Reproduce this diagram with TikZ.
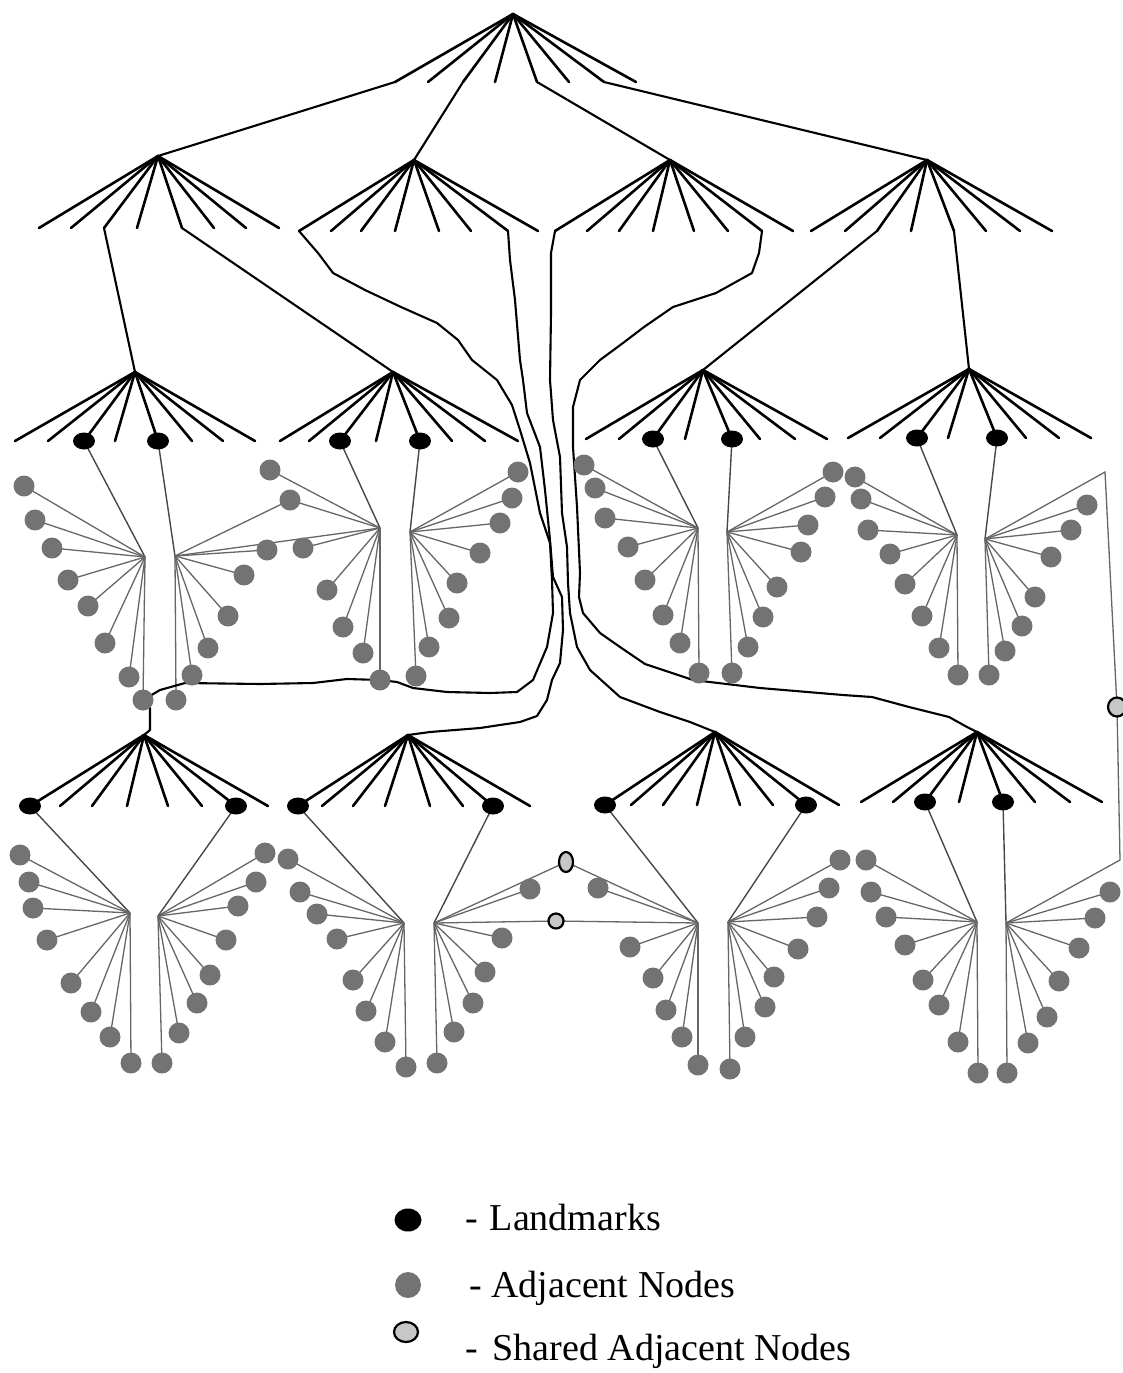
\documentclass[tikz,border=0pt]{standalone}
\usepackage{fontspec}
\setmainfont{Liberation Serif}
\usetikzlibrary{shapes.geometric}
\pgfdeclarelayer{bg}
\pgfsetlayers{bg,main}
\tikzset{
  fanline/.style={line width=2.6pt, line cap=round},
  conn/.style={line width=2.1pt, line join=round, line cap=round},
  spoke/.style={line width=1.3pt, black!60},
  lspoke/.style={line width=1.4pt, black!72},
  adj/.style={circle, fill=black!55, minimum size=21pt, inner sep=0pt},
  lmk/.style={ellipse, fill=black, minimum width=22pt, minimum height=17pt, inner sep=0pt},
  shared/.style={ellipse, draw=black, line width=2.2pt, fill=black!22, inner sep=0pt},
  legtext/.style={anchor=base west, inner sep=0pt, font=\fontsize{38}{44}\selectfont},
}
% #1 apex name, #2 y of fan ends, #3 list of x of fan ends
\newcommand\fanout[3]{%
  \foreach \fnx [count=\fnk] in {#3}{%
    \coordinate (#1-f\fnk) at (\fnx,#2);
    \begin{pgfonlayer}{bg}\draw[fanline] (#1) -- (#1-f\fnk);\end{pgfonlayer}
  }}
% #1 hub name, #2 list of x/y of adjacent nodes
\newcommand\adjset[2]{%
  \foreach \ajx/\ajy [count=\ajk] in {#2}{%
    \node[adj] (#1-n\ajk) at (\ajx,\ajy) {};
    \begin{pgfonlayer}{bg}\draw[spoke] (#1) -- (#1-n\ajk.center);\end{pgfonlayer}
  }}
% #1 cluster, #2 #3 fan indices of landmarks
\newcommand\lmarks[3]{%
  \node[lmk] (#1-L1) at (#1-f#2) {};
  \node[lmk] (#1-L2) at (#1-f#3) {};
  \begin{pgfonlayer}{bg}
    \draw[lspoke] (#1-L1.center) -- (#1-HL);
    \draw[lspoke] (#1-L2.center) -- (#1-HR);
  \end{pgfonlayer}}
\begin{document}
\begin{tikzpicture}[x=1pt,y=-1pt]
\useasboundingbox (0,0) rectangle (1122,1373);
% ---------- upper tree ----------
\coordinate (R) at (513,14);
\fanout{R}{82}{395,428,463,495,537,569,604,636}
\coordinate (A) at (158,156);
\coordinate (B) at (414,160);
\coordinate (C) at (670,160);
\coordinate (D) at (927,160);
\begin{pgfonlayer}{bg}
\draw[conn] (R-f1) -- (A);
\draw[conn] (R-f3) -- (B);
\draw[conn] (R-f5) -- (C);
\draw[conn] (R-f7) -- (D);
\end{pgfonlayer}
\fanout{A}{228}{39,71,104,137,182,214,246,279}
\fanout{B}{231}{299,331,361,395,439,471,508,538}
\fanout{C}{231}{555,587,619,653,694,728,762,793}
\fanout{D}{231}{811,845,877,911,954,986,1020,1052}
% ---------- upper clusters ----------
\coordinate (E) at (135,372);
\coordinate (F) at (393,372);
\coordinate (G) at (703,370);
\coordinate (H) at (969,369);
\begin{pgfonlayer}{bg}
\draw[conn] (A-f3) -- (E);
\draw[conn] (A-f5) -- (F);
\draw[conn] (D-f3) -- (G);
\draw[conn] (D-f5) -- (H);
\end{pgfonlayer}
\fanout{E}{441}{15,48,84,115,158,192,223,255}
\fanout{F}{441}{280,309,340,376,420,452,485,518}
\fanout{G}{439}{586,619,653,685,732,760,795,827}
\fanout{H}{438}{848,880,917,948,997,1026,1059,1091}
\coordinate (E-HL) at (145,557); \coordinate (E-HR) at (175,556);
\coordinate (F-HL) at (380,528); \coordinate (F-HR) at (410,532);
\coordinate (G-HL) at (698,528); \coordinate (G-HR) at (727,532);
\coordinate (H-HL) at (957,535); \coordinate (H-HR) at (985,539);
\lmarks{E}{3}{5}
\lmarks{F}{3}{5}
\lmarks{G}{3}{5}
\lmarks{H}{3}{5}
\adjset{E-HL}{24/486,35/520,52/548,68/580,88/606,105/643,129/677,143/700}
\adjset{E-HR}{267/550,244/575,228/616,208/648,192/675,176/700}
\adjset{F-HL}{270/470,290/500,303/548,327/590,343/627,363/653,380/680}
\adjset{F-HR}{518/472,512/498,500/523,480/553,457/583,449/618,429/647,416/676}
\adjset{G-HL}{584/465,595/488,605/518,628/547,645/580,663/615,680/643,699/673}
\adjset{G-HR}{833/472,825/497,808/525,801/552,777/587,763/617,748/647,732/673}
\adjset{H-HL}{855/477,861/499,868/530,890/554,905/584,922/616,939/648,958/675}
\adjset{H-HR}{1087/505,1071/530,1051/557,1035/597,1022/626,1005/651,989/675}
% ---------- lower clusters ----------
\coordinate (E2) at (144,735);
\coordinate (F2) at (408,735);
\coordinate (G2) at (715,732);
\coordinate (H2) at (977,732);
\fanout{E2}{806}{30,60,92,127,168,202,236,268}
\fanout{F2}{806}{298,322,353,385,430,463,493,530}
\fanout{G2}{805}{605,631,663,697,740,773,806,839}
\fanout{H2}{802}{861,893,925,959,1003,1035,1070,1102}
\coordinate (E2-HL) at (130,913); \coordinate (E2-HR) at (158,916);
\coordinate (F2-HL) at (404,923); \coordinate (F2-HR) at (434,923);
\coordinate (G2-HL) at (698,923); \coordinate (G2-HR) at (728,922);
\coordinate (H2-HL) at (977,922); \coordinate (H2-HR) at (1006,923);
\lmarks{E2}{1}{7}
\lmarks{F2}{1}{7}
\lmarks{G2}{1}{7}
\lmarks{H2}{3}{5}
\adjset{E2-HL}{20/855,29/882,33/908,47/940,71/983,91/1012,110/1037,131/1063}
\adjset{E2-HR}{265/853,256/882,238/906,226/940,210/975,197/1003,179/1033,162/1063}
\adjset{F2-HL}{288/859,300/892,317/914,337/939,353/980,366/1011,385/1042,406/1067}
\adjset{F2-HR}{530/889,502/938,485/972,473/1003,454/1032,437/1063}
\adjset{G2-HL}{598/888,630/947,653/978,666/1010,682/1037,698/1065}
\adjset{G2-HR}{840/860,829/888,817/917,798/949,774/977,765/1007,745/1037,730/1069}
\adjset{H2-HL}{866/860,871/892,886/917,905/945,923/980,939/1005,958/1042,978/1073}
\adjset{H2-HR}{1110/892,1095/918,1079/948,1059/981,1047/1017,1028/1043,1007/1073}
% shared adjacent nodes
\node[shared, minimum width=14pt, minimum height=20pt] (S1) at (566,862) {};
\node[shared, minimum width=15pt, minimum height=15pt] (S2) at (556,921) {};
\node[shared, minimum width=18pt, minimum height=19pt] (S3) at (1117,707) {};
\coordinate (Hx) at (1105,472);
\coordinate (Hy) at (1120,860);
\begin{pgfonlayer}{bg}
\draw[spoke] (F2-HR) -- (S1.center);
\draw[spoke] (F2-HR) -- (S2.center);
\draw[spoke] (G2-HL) -- (S1.center);
\draw[spoke] (G2-HL) -- (S2.center);
\draw[spoke] (H-HR) -- (Hx) -- (S3.center) -- (Hy) -- (H2-HR);
\draw[spoke] (E-HR) -- (F-HL-n2.center);
\draw[spoke] (E-HR) -- (F-HL);
% long connectors through the middle
\draw[conn] (B-f1) -- (318,253) -- (333,273) -- (365,290) -- (401,307) -- (437,323)
  -- (458,340) -- (472,360) -- (497,380) -- (512,405) -- (520,430) -- (530,463)
  -- (540,513) -- (550,543) -- (552,580) -- (553,613) -- (547,647) -- (533,680)
  -- (517,692) -- (490,693) -- (447,692) -- (413,688) -- (397,682) -- (F-HL-n7.center)
  -- (347,679) -- (313,683) -- (260,684) -- (185,683) -- (160,690) -- (E-HL-n8.center);
\draw[conn] (E-HL-n8.center) -- (150,708) -- (150,730) -- (E2);
\draw[conn] (B-f7) -- (510,260) -- (515,300) -- (520,360) -- (523,380) -- (527,413)
  -- (540,447) -- (545,490) -- (550,540) -- (553,577) -- (562,597) -- (563,630)
  -- (560,663) -- (552,680) -- (547,700) -- (537,716) -- (520,722) -- (480,728)
  -- (430,732) -- (F2);
\draw[conn] (C-f1) -- (551,253) -- (551,313) -- (550,380) -- (553,420) -- (560,457)
  -- (562,513) -- (567,547) -- (568,583) -- (570,613) -- (577,647) -- (590,670)
  -- (620,697) -- (660,712) -- (690,722) -- (G2);
\draw[conn] (C-f7) -- (759,253) -- (752,273) -- (716,293) -- (673,307) -- (644,327)
  -- (623,343) -- (600,360) -- (580,380) -- (573,407) -- (573,447) -- (577,507)
  -- (580,573) -- (579,597) -- (583,613) -- (600,633) -- (620,647) -- (645,664)
  -- (693,680) -- (760,688) -- (843,695) -- (872,697) -- (909,707) -- (949,717)
  -- (967,727) -- (H2);
\end{pgfonlayer}
% ---------- legend ----------
\node[lmk, minimum width=27pt, minimum height=23pt] (legL) at (408,1220) {};
\node[adj, minimum size=26pt] (legA) at (408,1285) {};
\node[shared, minimum width=24pt, minimum height=20pt] (legS) at (406,1332) {};
\node[legtext] (tL) at (465,1230) {-\hspace{12pt}Landmarks};
\node[legtext] (tA) at (469,1297) {- Adjacent Nodes};
\node[legtext] (tS) at (465,1360) {-\hspace{15pt}Shared Adjacent Nodes};
\end{tikzpicture}
\end{document}
